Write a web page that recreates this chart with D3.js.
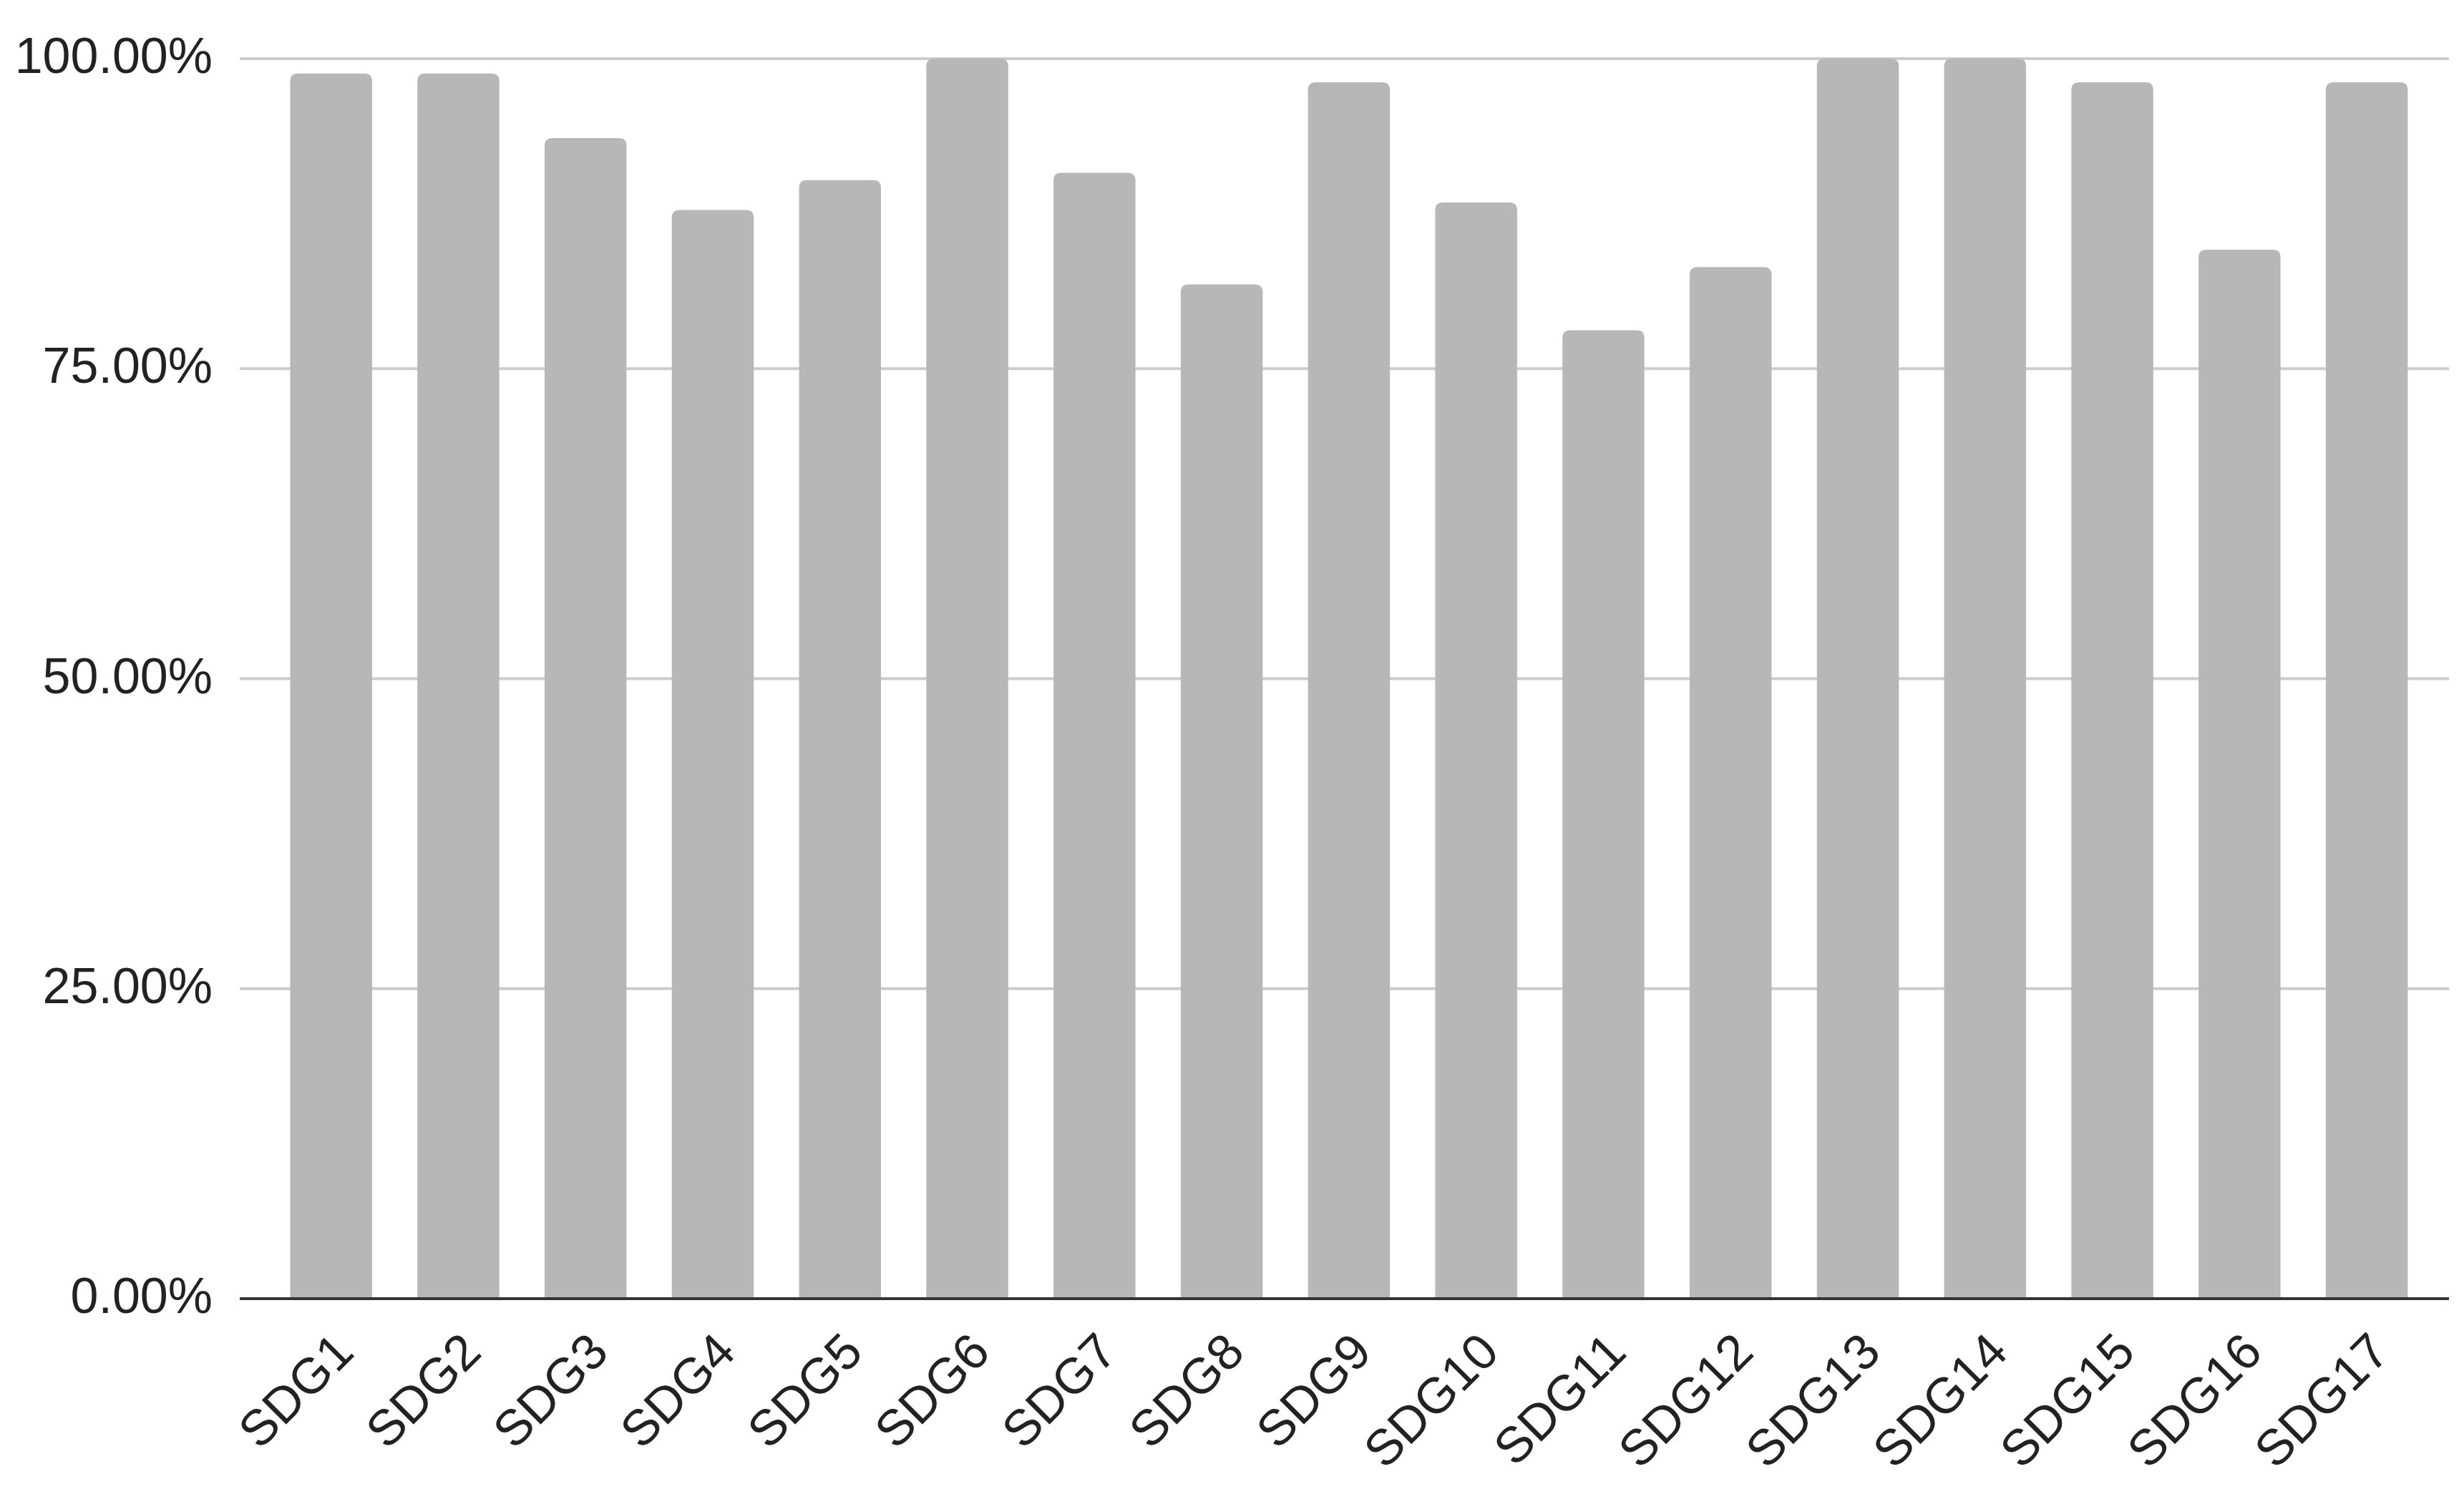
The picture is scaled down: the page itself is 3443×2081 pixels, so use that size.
<!DOCTYPE html>
<html lang="en">

<head>
    <meta charset="UTF-8">
    <title>SDG coverage</title>
    <script src="https://cdn.jsdelivr.net/npm/d3@7"></script>
    <style type="text/css">
        html,
        body {
            margin: 0;
            padding: 0;
            background: #ffffff;
        }

        .axis text {
            font-family: "Liberation Sans", Arial, sans-serif;
            font-size: 70px;
            fill: #222222;
        }

        .grid line {
            stroke: #cccccc;
            stroke-width: 4px;
        }

        .bar {
            fill: #b7b7b7;
        }

        .baseline {
            stroke: #333333;
            stroke-width: 4px;
        }
    </style>
</head>

<body>
    <svg id="chart" width="3443" height="2081"></svg>
</body>
<script>
    var categories = ["SDG1", "SDG2", "SDG3", "SDG4", "SDG5", "SDG6", "SDG7", "SDG8", "SDG9",
        "SDG10", "SDG11", "SDG12", "SDG13", "SDG14", "SDG15", "SDG16", "SDG17"];
    var values = [98.8, 98.8, 93.6, 87.8, 90.2, 100, 90.8, 81.8, 98.1,
        88.4, 78.1, 83.2, 100, 100, 98.1, 84.6, 98.1];
    var yTicks = [0, 25, 50, 75, 100];

    var svg = d3.select("#chart"),
        margin = {
            top: 82,
            right: 21,
            bottom: 266,
            left: 335
        },
        width = +svg.attr("width") - margin.left - margin.right,
        height = +svg.attr("height") - margin.top - margin.bottom;

    var x = d3.scaleBand()
        .domain(categories)
        .range([0, width])
        .paddingInner(0.356)
        .paddingOuter(0.36)
        .align(0.55);

    var y = d3.scaleLinear().domain([0, 100]).range([height, 0]);

    var g = svg.append("g")
        .attr("transform", "translate(" + margin.left + "," + margin.top + ")");

    // gridlines (0 is drawn as the dark baseline below)
    g.append("g")
        .attr("class", "grid")
        .selectAll("line")
        .data(yTicks.filter(d => d > 0))
        .enter().append("line")
        .attr("x1", 0)
        .attr("x2", width)
        .attr("y1", d => y(d))
        .attr("y2", d => y(d));

    // y labels
    var yAxis = d3.axisLeft(y)
        .tickValues(yTicks)
        .tickSize(0)
        .tickPadding(38)
        .tickFormat(d => d.toFixed(2) + "%");

    g.append("g")
        .attr("class", "axis axis--y")
        .call(yAxis)
        .call(s => s.select(".domain").remove())
        .selectAll("text")
        .attr("dy", "0.28em");

    // bars, top corners rounded
    var r = 11;
    g.selectAll(".bar")
        .data(values)
        .enter().append("path")
        .attr("class", "bar")
        .attr("d", (d, i) => {
            var x0 = x(categories[i]),
                x1 = x0 + x.bandwidth(),
                y0 = y(0),
                y1 = y(d);
            return "M" + x0 + "," + y0 +
                "V" + (y1 + r) +
                "Q" + x0 + "," + y1 + " " + (x0 + r) + "," + y1 +
                "H" + (x1 - r) +
                "Q" + x1 + "," + y1 + " " + x1 + "," + (y1 + r) +
                "V" + y0 + "Z";
        });

    // baseline
    g.append("line")
        .attr("class", "baseline")
        .attr("x1", 0)
        .attr("x2", width)
        .attr("y1", y(0))
        .attr("y2", y(0));

    // x labels, rotated 45deg
    var xAxis = d3.axisBottom(x).tickSize(0).tickPadding(0);

    g.append("g")
        .attr("class", "axis axis--x")
        .attr("transform", "translate(0," + height + ")")
        .call(xAxis)
        .call(s => s.select(".domain").remove())
        .selectAll("text")
        .attr("y", 0)
        .attr("dy", 0)
        .attr("text-anchor", "end")
        .attr("transform", "translate(35,78) rotate(-45)");
</script>

</html>
